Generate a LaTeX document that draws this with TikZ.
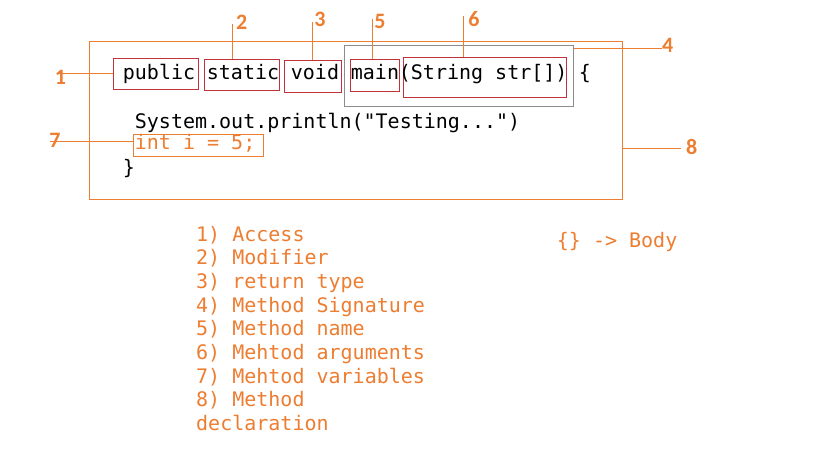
\documentclass[tikz,border=0pt]{standalone}
\usepackage{fontspec}
\setmonofont{DejaVu Sans Mono}
\newfontfamily\labfont{Carlito}
\definecolor{ora}{HTML}{ED7D31}
\definecolor{crim}{HTML}{C0323C}
\definecolor{sig}{HTML}{8C8C8C}
\begin{document}
\begin{tikzpicture}[x=1pt,y=-1pt,
  code/.style={anchor=base west,inner sep=0pt,font=\ttfamily\fontsize{20}{24}\selectfont},
  lst/.style={code,text=ora},
  lab/.style={inner sep=0pt,text=ora,font=\labfont\bfseries\fontsize{22}{24}\selectfont},
  redbox/.style={draw=crim,line width=1pt},
  orabox/.style={draw=ora,line width=1pt},
  grybox/.style={draw=sig,line width=1pt},
  conn/.style={draw=ora,line width=1pt}]
\useasboundingbox (0,0) rectangle (819,460);
\fill[white] (0,0) rectangle (819,460);
% boxes
\draw[orabox] (89.3,41.3) rectangle (622.3,199) coordinate (bodyse);
\coordinate (bodynw) at (89.3,41.3);
\node[grybox,minimum width=229pt,minimum height=60.7pt,inner sep=0pt] (bsig) at (458.8,75.65) {};
\node[redbox,minimum width=85pt,minimum height=30.6pt,inner sep=0pt] (bpub) at (155.8,74) {};
\node[redbox,minimum width=75pt,minimum height=30.7pt,inner sep=0pt] (bsta) at (241.8,74.65) {};
\node[redbox,minimum width=57pt,minimum height=31.7pt,inner sep=0pt] (bvoid) at (312.8,76.15) {};
\node[redbox,minimum width=49pt,minimum height=32pt,inner sep=0pt] (bmain) at (374.8,75.3) {};
\node[redbox,minimum width=163pt,minimum height=40pt,inner sep=0pt] (bargs) at (484.8,77.3) {};
\node[orabox,minimum width=130pt,minimum height=21.7pt,inner sep=0pt] (bint) at (198.3,145.15) {};
% code text
\node[code] (tpub) at (122.7,80) {public};
\node[code] (tsta) at (206.7,80) {static};
\node[code] (tvoid) at (290.7,80) {void};
\node[code] (tmain) at (350.7,80) {main};
\node[code] (targs) at (398.7,80) {(String str[])};
\node[code] (tbr) at (578.7,80) {\{};
\node[code] (tsys) at (134.7,128.3) {System.out.println("Testing...")};
\node[code,text=ora] (tint) at (134.7,149.3) {int i = 5;};
\node[code] (tend) at (122.7,174) {\}};
% connectors
\coordinate (c1) at (56.7,74);
\draw[conn] (c1) -- (bpub.west);
\coordinate (c2) at (232.7,24);
\draw[conn] (c2) -- (c2 |- bsta.north);
\coordinate (c3) at (312.7,22);
\draw[conn] (c3) -- (c3 |- bvoid.north);
\coordinate (c5) at (372.7,19);
\draw[conn] (c5) -- (c5 |- bmain.north);
\coordinate (c6) at (463.7,16);
\draw[conn] (c6) -- (c6 |- bargs.north);
\coordinate (c4) at (661.7,48.7);
\draw[conn] (c4) -- (c4 -| bsig.east);
\coordinate (c8) at (680.7,148.7);
\draw[conn] (c8) -- (c8 -| bodyse);
\coordinate (c7) at (50,141.7);
\draw[conn] (c7) -- (c7 -| bint.west);
% labels
\node[lab] (n1) at (60.5,77) {1};
\node[lab] (n2) at (241.7,22) {2};
\node[lab] (n3) at (320,19) {3};
\node[lab] (n4) at (667.7,45.5) {4};
\node[lab] (n5) at (380,21) {5};
\node[lab] (n6) at (474,18.7) {6};
\node[lab] (n7) at (55,140.5) {7};
\node[lab] (n8) at (691.7,146.7) {8};
% legend
\node[lst] (l1) at (196,241) {1) Access};
\node[lst] (l2) at (196,264.7) {2) Modifier};
\node[lst] (l3) at (196,288.4) {3) return type};
\node[lst] (l4) at (196,312.1) {4) Method Signature};
\node[lst] (l5) at (196,335.8) {5) Method name};
\node[lst] (l6) at (196,359.5) {6) Mehtod arguments};
\node[lst] (l7) at (196,383.2) {7) Mehtod variables};
\node[lst] (l8) at (196,406.9) {8) Method};
\node[lst] (l9) at (196,430.6) {declaration};
\node[lst] (body) at (556.7,247.3) {\{\} -> Body};
\end{tikzpicture}
\end{document}
